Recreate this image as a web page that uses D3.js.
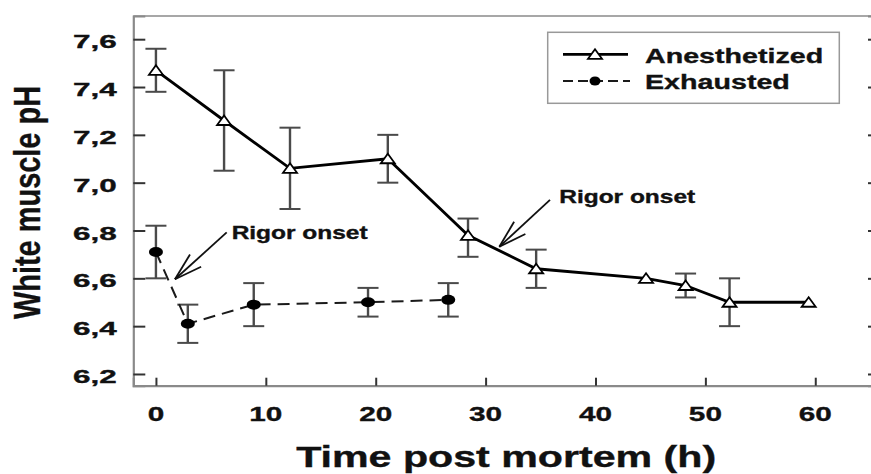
<!DOCTYPE html>
<html><head><meta charset="utf-8">
<script src="https://cdn.jsdelivr.net/npm/d3@7"></script>
<style>
html,body{margin:0;padding:0;background:#fff;}
svg{display:block;}
text{font-family:"Liberation Sans",Arial,sans-serif;font-weight:bold;fill:#111;stroke:#111;stroke-width:0.35px;}
</style>
</head><body>
<svg id="chart" width="871" height="474"></svg>
<script>
// ---- data ----
const seriesNames = ["Anesthetized", "Exhausted"];
const anTime = [0, 6.2, 12.2, 21.1, 28.4, 34.6, 44.6, 48.2, 52.2, 59.4];
const anPH   = [7.47, 7.26, 7.06, 7.10, 6.78, 6.64, 6.60, 6.57, 6.50, 6.50];
const anHi   = [7.56, 7.47, 7.23, 7.20, 6.85, 6.72, null, 6.62, 6.60, null];
const anLo   = [7.38, 7.05, 6.89, 7.00, 6.69, 6.56, null, 6.52, 6.40, null];
const exTime = [0, 2.9, 8.9, 19.3, 26.6];
const exPH   = [6.71, 6.41, 6.49, 6.50, 6.51];
const exHi   = [6.82, 6.49, 6.58, 6.56, 6.58];
const exLo   = [6.60, 6.33, 6.40, 6.44, 6.44];
const xTicks = [0, 10, 20, 30, 40, 50, 60];
const yTicks = [6.2, 6.4, 6.6, 6.8, 7.0, 7.2, 7.4, 7.6];
const xTitle = "Time post mortem (h)";
const yTitle = "White muscle pH";
const noteText = "Rigor onset";

// ---- layout ----
const svg = d3.select("#chart");
const L = 133.3, R = 879, T = 16, B = 385.7;
const x = d3.scaleLinear().domain([-2.06, 65.8]).range([L, R]);
const y = d3.scaleLinear().domain([6.151, 7.697]).range([B, T]);
const fmt = d => d3.format(".1f")(d).replace(".", ",");

function stext(g, str, px, py, size, sx, anchor, rot) {
  return g.append("text")
    .attr("transform", `translate(${px},${py})` + (rot ? ` rotate(${rot})` : "") + ` scale(${sx},1)`)
    .attr("text-anchor", anchor || "start")
    .attr("font-size", size)
    .text(str);
}

// frame
const frameCol = "#8a8a8a";
svg.append("line").attr("x1", L).attr("x2", 871).attr("y1", T).attr("y2", T)
  .attr("stroke", frameCol).attr("stroke-width", 1.6);

const yAxisL = svg.append("g").attr("transform", `translate(${L},0)`)
  .call(d3.axisLeft(y).tickValues(yTicks).tickSize(-12).tickFormat(""));
const yAxisR = svg.append("g").attr("transform", `translate(${R},0)`)
  .call(d3.axisRight(y).tickValues(yTicks).tickSize(-11).tickFormat(""));
const xAxisB = svg.append("g").attr("transform", `translate(0,${B})`)
  .call(d3.axisBottom(x).tickValues(xTicks).tickSize(-8).tickFormat(""));
[yAxisL, yAxisR, xAxisB].forEach(a => {
  a.select(".domain").attr("stroke", frameCol).attr("stroke-width", 2.2);
  a.selectAll(".tick line").attr("stroke", "#333").attr("stroke-width", 2);
});

// tick labels
yTicks.forEach(v => stext(svg, fmt(v), 116.7, y(v) + 9, 18.5, 1.7, "end"));
xTicks.forEach(v => stext(svg, String(v), x(v), 420.7, 20.5, 1.45, "middle"));

// axis titles
stext(svg, xTitle, (L + R) / 2, 467.3, 28.8, 1.43, "middle");
stext(svg, yTitle, 40, 202.5, 37, 0.782, "middle", -90);

// error bars
function errBars(ts, lo, hi) {
  const g = svg.append("g").attr("stroke", "#4a4a4a").attr("stroke-width", 2.4);
  ts.forEach((t, i) => {
    if (lo[i] == null) return;
    const cx = x(t);
    g.append("line").attr("x1", cx).attr("x2", cx).attr("y1", y(lo[i])).attr("y2", y(hi[i]));
    [lo[i], hi[i]].forEach(v => g.append("line").attr("x1", cx - 10.5).attr("x2", cx + 10.5)
      .attr("y1", y(v)).attr("y2", y(v)).attr("stroke-width", 2));
  });
}
errBars(anTime, anLo, anHi);
errBars(exTime, exLo, exHi);

// lines
const lineGen = d3.line().x(d => x(d[0])).y(d => y(d[1]));
svg.append("path").datum(exTime.map((t, i) => [t, exPH[i]]))
  .attr("d", lineGen).attr("fill", "none").attr("stroke", "#1a1a1a")
  .attr("stroke-width", 2).attr("stroke-dasharray", "12,7");
svg.append("path").datum(anTime.map((t, i) => [t, anPH[i]]))
  .attr("d", lineGen).attr("fill", "none").attr("stroke", "#000")
  .attr("stroke-width", 2.8);

// markers
const triPath = (cx, cy) => `M${cx - 7},${cy + 4.5}L${cx + 7},${cy + 4.5}L${cx},${cy - 5}Z`;
anTime.forEach((t, i) => svg.append("path").attr("d", triPath(x(t), y(anPH[i])))
  .attr("fill", "#fff").attr("stroke", "#000").attr("stroke-width", 1.8));
exTime.forEach((t, i) => svg.append("ellipse").attr("cx", x(t)).attr("cy", y(exPH[i]))
  .attr("rx", 7).attr("ry", 5).attr("fill", "#000"));

// annotations (arrows)
function arrow(t0, p0, t1, p1) {
  const sx = x(t0), sy = y(p0), tx = x(t1), ty = y(p1);
  const g = svg.append("g").attr("stroke", "#111").attr("stroke-width", 1.8).attr("fill", "none");
  g.append("line").attr("x1", sx).attr("y1", sy).attr("x2", tx).attr("y2", ty);
  const ang = Math.atan2(sy - ty, sx - tx);
  [-0.29, 0.29].forEach(da => {
    const a = ang + da;
    g.append("line").attr("x1", tx).attr("y1", ty)
      .attr("x2", tx + 29 * Math.cos(a)).attr("y2", ty + 29 * Math.sin(a));
  });
}
arrow(6.44, 6.792, 1.73, 6.596);
arrow(35.86, 6.928, 31.25, 6.732);
stext(svg, noteText, x(6.89), y(6.763), 17.5, 1.4, "start");
stext(svg, noteText, x(36.7), y(6.914), 17.5, 1.4, "start");

// legend
svg.append("rect").attr("x", 547.7).attr("y", 32.3).attr("width", 291.6).attr("height", 71)
  .attr("fill", "#fff").attr("stroke", "#999").attr("stroke-width", 1.5);
svg.append("line").attr("x1", 563).attr("x2", 628).attr("y1", 54.3).attr("y2", 54.3)
  .attr("stroke", "#000").attr("stroke-width", 2.8);
svg.append("path").attr("d", triPath(595, 54.3)).attr("fill", "#fff")
  .attr("stroke", "#000").attr("stroke-width", 1.8);
svg.append("line").attr("x1", 563).attr("x2", 630).attr("y1", 81).attr("y2", 81)
  .attr("stroke", "#1a1a1a").attr("stroke-width", 2).attr("stroke-dasharray", "10,5");
svg.append("ellipse").attr("cx", 595).attr("cy", 81).attr("rx", 5.5).attr("ry", 4.5).attr("fill", "#000");
stext(svg, seriesNames[0], 645, 62.7, 21, 1.365, "start");
stext(svg, seriesNames[1], 645, 89.3, 21, 1.365, "start");
</script>
</body></html>
